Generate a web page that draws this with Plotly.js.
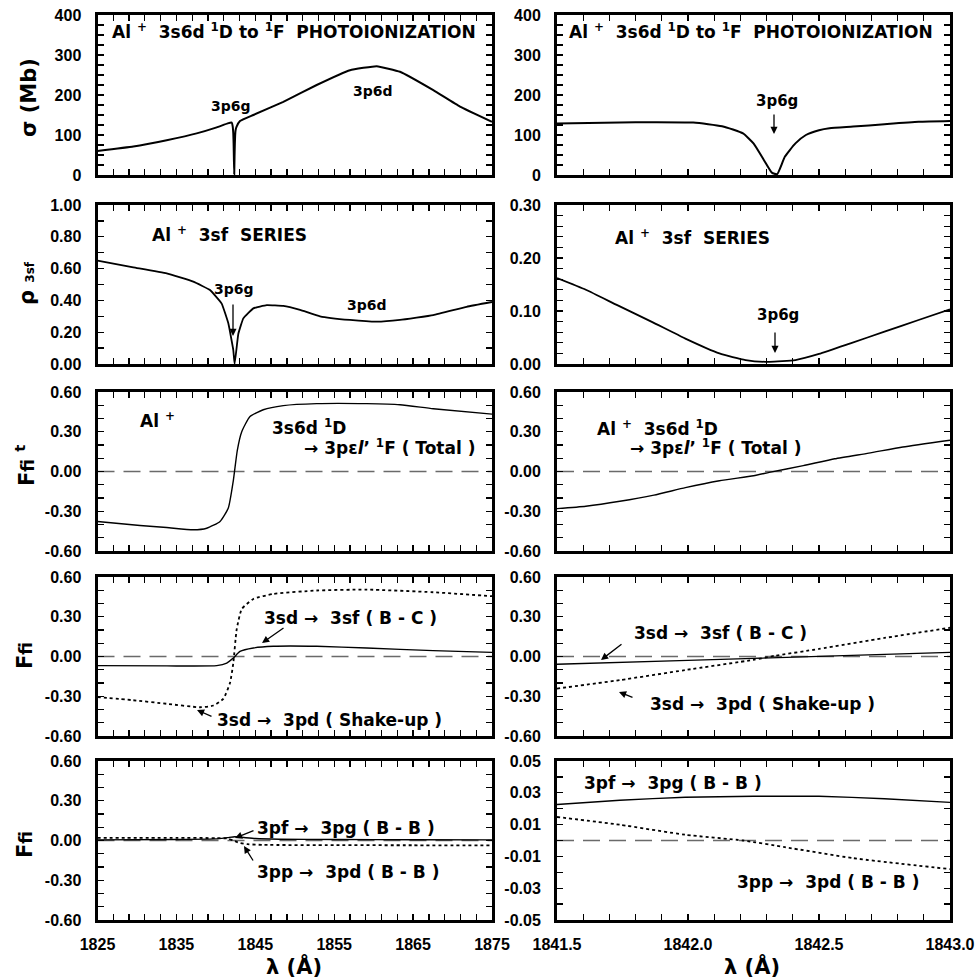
<!DOCTYPE html>
<html>
<head>
<meta charset="utf-8">
<script src="https://cdn.plot.ly/plotly-3.0.1.min.js"></script>
<style>html,body{margin:0;padding:0;background:#fff}#chart{width:975px;height:979px}</style>
</head>
<body>
<div id="chart"></div>
<script>
// ---------------- DATA ----------------
// Panel 1: photoionization cross section sigma (Mb)
const wlSigmaFull = [1825, 1829.54, 1833.77, 1837.57, 1840.11, 1841.5, 1842.01, 1842.13, 1842.21, 1842.25, 1842.29, 1842.33, 1842.37, 1842.41, 1842.45, 1842.5, 1842.63, 1843.06, 1844.75, 1848.55, 1852.78, 1857.0, 1860.39, 1863.34, 1867.56, 1870.94, 1875];
const sigmaFull   = [60, 71, 87, 104, 119, 129, 131, 122, 104, 79, 37, 2, 46, 79, 100, 112, 121, 135, 150, 183, 225, 262, 272, 258, 212, 171, 133];
const wlSigmaZoom = [1841.5, 1841.8, 1842.02, 1842.13, 1842.21, 1842.25, 1842.29, 1842.32, 1842.34, 1842.37, 1842.41, 1842.45, 1842.5, 1842.54, 1842.63, 1842.75, 1842.88, 1843.0];
const sigmaZoom   = [129, 132, 131, 122, 104, 79, 37, 6, 2, 46, 79, 100, 112, 117, 121, 127, 133, 135];

// Panel 2: rho_3sf
const wlRhoFull = [1825, 1829.54, 1833.77, 1837.14, 1839.26, 1840.74, 1841.58, 1842.21, 1842.38, 1842.85, 1843.48, 1844.75, 1846.45, 1848.55, 1850.67, 1853.2, 1857.0, 1860.39, 1863.34, 1867.56, 1871.79, 1875];
const rhoFull   = [0.65, 0.608, 0.57, 0.518, 0.465, 0.38, 0.256, 0.088, 0.0, 0.19, 0.287, 0.35, 0.37, 0.365, 0.34, 0.30, 0.277, 0.266, 0.277, 0.308, 0.36, 0.39];
const wlRhoZoom = [1841.5, 1841.61, 1841.73, 1841.86, 1841.99, 1842.12, 1842.22, 1842.31, 1842.41, 1842.5, 1842.62, 1842.75, 1842.88, 1843.0];
const rhoZoom   = [0.162, 0.14, 0.111, 0.08, 0.048, 0.02, 0.0075, 0.004, 0.0075, 0.019, 0.039, 0.061, 0.083, 0.103];

// Panel 3: total F_fi^t
const wlFtotFull = [1825, 1830.39, 1833.77, 1837.14, 1838.84, 1840.53, 1841.58, 1842.21, 1842.72, 1843.28, 1844.33, 1846.01, 1848.55, 1852.78, 1859.12, 1863.34, 1867.56, 1875];
const ftotFull   = [-0.377, -0.408, -0.423, -0.44, -0.428, -0.377, -0.275, -0.07, 0.16, 0.30, 0.415, 0.466, 0.497, 0.512, 0.512, 0.504, 0.474, 0.433];
const wlFtotZoom = [1841.5, 1841.61, 1841.74, 1841.87, 1841.99, 1842.12, 1842.25, 1842.31, 1842.44, 1842.56, 1842.69, 1842.82, 1843.0];
const ftotZoom   = [-0.28, -0.262, -0.225, -0.178, -0.122, -0.07, -0.032, -0.007, 0.044, 0.096, 0.139, 0.185, 0.236];

// Panel 4: 3sd -> 3sf (B-C) [solid] and 3sd -> 3pd (Shake-up) [dotted]
const wlBcFull = [1825, 1833.77, 1840.11, 1841.38, 1842.21, 1843.06, 1844.75, 1847.28, 1852.78, 1859.12, 1867.56, 1875];
const bcFull   = [-0.069, -0.071, -0.069, -0.05, -0.012, 0.038, 0.064, 0.077, 0.077, 0.064, 0.044, 0.031];
const wlShakeFull = [1825, 1829.54, 1833.77, 1837.99, 1839.68, 1840.94, 1841.79, 1842.21, 1842.64, 1843.28, 1844.75, 1847.28, 1852.78, 1859.12, 1867.56, 1875];
const shakeFull   = [-0.306, -0.33, -0.357, -0.383, -0.37, -0.32, -0.20, -0.05, 0.204, 0.358, 0.434, 0.472, 0.498, 0.505, 0.485, 0.455];
const wlBcZoom = [1841.5, 1842.0, 1842.5, 1843.0];
const bcZoom   = [-0.058, -0.029, 0.001, 0.031];
const wlShakeZoom = [1841.5, 1841.74, 1841.99, 1842.25, 1842.33, 1842.5, 1842.75, 1843.0];
const shakeZoom   = [-0.242, -0.178, -0.102, -0.025, 0.005, 0.057, 0.14, 0.217];

// Panel 5: 3pf -> 3pg (B-B) [solid] and 3pp -> 3pd (B-B) [dotted]
const wlPfpgFull = [1825, 1835, 1840, 1841.5, 1842.4, 1843.3, 1845, 1848, 1855, 1865, 1875];
const pfpgFull   = [0.005, 0.008, 0.012, 0.022, 0.028, 0.024, 0.015, 0.01, 0.007, 0.006, 0.005];
const wlPppdFull = [1825, 1835, 1840, 1841.5, 1842.2, 1843, 1844, 1846, 1855, 1865, 1875];
const pppdFull   = [0.02, 0.02, 0.018, 0.015, 0.0, -0.018, -0.028, -0.033, -0.035, -0.036, -0.037];
const wlPfpgZoom = [1841.5, 1841.74, 1841.99, 1842.25, 1842.5, 1842.75, 1843.0];
const pfpgZoom   = [0.0226, 0.0253, 0.0272, 0.0278, 0.0278, 0.0263, 0.024];
const wlPppdZoom = [1841.5, 1841.74, 1841.99, 1842.21, 1842.37, 1842.63, 1843.0];
const pppdZoom   = [0.0148, 0.0099, 0.0036, 0.0, -0.0042, -0.0111, -0.018];

// Tick labels
const xLabelsFull = ['1825', '1835', '1845', '1855', '1865', '1875'];
const xLabelsZoom = ['1841.5', '1842.0', '1842.5', '1843.0'];
const yLabelsSigma = ['0', '100', '200', '300', '400'];
const yLabelsRhoFull = ['0.00', '0.20', '0.40', '0.60', '0.80', '1.00'];
const yLabelsRhoZoom = ['0.00', '0.10', '0.20', '0.30'];
const yLabelsF = ['-0.60', '-0.30', '0.00', '0.30', '0.60'];
const yLabelsFsmall = ['-0.05', '-0.03', '-0.01', '0.01', '0.03', '0.05'];

// ---------------- LAYOUT HELPERS ----------------
const W = 975, H = 979;
const px = v => v / W;
const py = v => 1 - v / H;
const colX = [[97.5, 492], [557, 950]];
const rowY = [[15, 175], [205, 364], [392, 551], [577, 736], [761, 920]];

const BLACK = '#000';
const solid = (w) => ({color: BLACK, width: w, shape: 'spline', smoothing: 0.5});
const dotted = (w) => ({color: BLACK, width: w, dash: 'dot', shape: 'spline', smoothing: 0.5});

const traces = [];
function add(n, x, y, line) {
  traces.push({type: 'scatter', mode: 'lines', x: x, y: y, line: line,
    xaxis: 'x' + (n === 1 ? '' : n), yaxis: 'y' + (n === 1 ? '' : n), hoverinfo: 'skip'});
}
add(1, wlSigmaFull, sigmaFull, {color: BLACK, width: 2, shape: 'spline', smoothing: 0.3});
add(2, wlSigmaZoom, sigmaZoom, solid(2));
add(3, wlRhoFull, rhoFull, {color: BLACK, width: 1.8, shape: 'spline', smoothing: 0.3});
add(4, wlRhoZoom, rhoZoom, solid(1.8));
add(5, wlFtotFull, ftotFull, solid(1.4));
add(6, wlFtotZoom, ftotZoom, solid(1.4));
add(7, wlBcFull, bcFull, solid(1.4));
add(7, wlShakeFull, shakeFull, dotted(1.8));
add(8, wlBcZoom, bcZoom, solid(1.4));
add(8, wlShakeZoom, shakeZoom, dotted(1.8));
add(9, wlPfpgFull, pfpgFull, solid(1.4));
add(9, wlPppdFull, pppdFull, dotted(1.8));
add(10, wlPfpgZoom, pfpgZoom, solid(1.4));
add(10, wlPppdZoom, pppdZoom, dotted(1.8));

const tickFont = {family: 'Liberation Sans, Arial, sans-serif', size: 16, color: BLACK, weight: 'bold'};
const annFont = (s) => ({family: 'DejaVu Sans, sans-serif', size: s, color: BLACK, weight: 'bold'});

// build tick arrays: ticks every `step`, labelled where a label string matches
function tickSet(lo, hi, step, labels) {
  const vals = [], text = [];
  const n = Math.round((hi - lo) / step);
  for (let i = 0; i <= n; i++) {
    const v = +(lo + i * step).toFixed(6);
    vals.push(v);
    const hit = labels.find(s => Math.abs(parseFloat(s) - v) < step / 10);
    text.push(hit !== undefined ? hit : '');
  }
  return {tickvals: vals, ticktext: text};
}

const layout = {
  width: W, height: H,
  margin: {l: 0, r: 0, t: 0, b: 0},
  paper_bgcolor: '#fff', plot_bgcolor: '#fff',
  showlegend: false,
  annotations: [], shapes: []
};

const yCfg = [
  [{range: [0, 400], step: 25, labels: yLabelsSigma}, {range: [0, 400], step: 25, labels: yLabelsSigma}],
  [{range: [0, 1], step: 0.1, labels: yLabelsRhoFull}, {range: [0, 0.3], step: 0.02, labels: yLabelsRhoZoom}],
  [{range: [-0.6, 0.6], step: 0.1, labels: yLabelsF}, {range: [-0.6, 0.6], step: 0.1, labels: yLabelsF}],
  [{range: [-0.6, 0.6], step: 0.1, labels: yLabelsF}, {range: [-0.6, 0.6], step: 0.1, labels: yLabelsF}],
  [{range: [-0.6, 0.6], step: 0.1, labels: yLabelsF}, {range: [-0.05, 0.05], step: 0.01, labels: yLabelsFsmall}]
];

for (let r = 0; r < 5; r++) {
  for (let c = 0; c < 2; c++) {
    const n = r * 2 + c + 1;
    const sfx = n === 1 ? '' : n;
    const full = c === 0;
    const common = {
      showline: true, linewidth: 3, linecolor: BLACK, mirror: 'allticks',
      ticks: 'inside', ticklen: 6, tickwidth: 1.3, tickcolor: BLACK,
      showgrid: false, zeroline: false, tickfont: tickFont, fixedrange: true
    };
    const xr = full ? [1825, 1875] : [1841.5, 1843.0];
    const xt = full ? tickSet(1825, 1875, 2, xLabelsFull) : tickSet(1841.5, 1843.0, 0.1, xLabelsZoom);
    layout['xaxis' + sfx] = Object.assign({}, common, {
      domain: [px(colX[c][0]), px(colX[c][1])],
      anchor: 'y' + sfx,
      range: xr,
      tickmode: 'array', tickvals: xt.tickvals, ticktext: xt.ticktext,
      showticklabels: r === 4,
      ticklabelstandoff: 8
    });
    const yc = yCfg[r][c];
    const yt = tickSet(yc.range[0], yc.range[1], yc.step, yc.labels);
    layout['yaxis' + sfx] = Object.assign({}, common, {
      domain: [py(rowY[r][1]), py(rowY[r][0])],
      anchor: 'x' + sfx,
      range: yc.range,
      tickmode: 'array', tickvals: yt.tickvals, ticktext: yt.ticktext,
      ticklabelstandoff: 10
    });
    if (r >= 2) {
      layout.shapes.push({type: 'line', xref: 'x' + sfx + ' domain', yref: 'y' + sfx,
        x0: 0, x1: 1, y0: 0, y1: 0, layer: 'below',
        line: {color: '#6a6a6a', width: 1.4, dash: '17px,9px'}});
    }
  }
}

const NB = '\u00a0';
function label(text, x, y, size, anchor) {
  layout.annotations.push({text: text, xref: 'paper', yref: 'paper', x: px(x), y: py(y),
    xanchor: anchor || 'left', yanchor: 'middle', showarrow: false, font: annFont(size)});
}
function arrow(tx, ty, hx, hy) {
  layout.annotations.push({text: '', xref: 'paper', yref: 'paper', x: px(hx), y: py(hy),
    ax: tx - hx, ay: ty - hy, showarrow: true, arrowhead: 2, arrowsize: 1.1,
    arrowwidth: 1.3, arrowcolor: BLACK, standoff: 0, startstandoff: 0});
}

const title1 = 'Al' + NB + '<sup>+</sup>' + NB + NB + '3s6d' + NB + '<sup>1</sup>D to' + NB + '<sup>1</sup>F' + NB + NB + 'PHOTOIONIZATION';
const series = 'Al' + NB + '<sup>+</sup>' + NB + NB + '3sf' + NB + NB + 'SERIES';
const total = '\u2192' + NB + '3p\u03b5<i>l</i>\u2019' + NB + '<sup>1</sup>F' + NB + '(' + NB + 'Total' + NB + ')';
const arr = NB + '\u2192' + NB + NB;

// Panel 1
label(title1, 110, 31, 17);
label('3p6g', 231, 106, 14, 'center');
label('3p6d', 373, 91, 14, 'center');
label(title1, 567, 31, 17);
label('3p6g', 777, 101, 15, 'center');
arrow(774, 113, 774, 134);
// Panel 2
label(series, 150, 234, 17);
label('3p6g', 234, 289, 14, 'center');
arrow(233, 303, 233, 336);
label('3p6d', 367, 305, 14, 'center');
label(series, 613, 237, 17);
label('3p6g', 778, 315, 15, 'center');
arrow(775, 331, 775, 353);
// Panel 3
label('Al' + NB + '<sup>+</sup>', 138, 420, 17);
label('3s6d' + NB + '<sup>1</sup>D', 270, 427, 17);
label(total, 302, 447, 17);
label('Al' + NB + '<sup>+</sup>' + NB + NB + '3s6d' + NB + '<sup>1</sup>D', 595, 428, 17);
label(total, 628, 447, 17);
// Panel 4
label('3sd' + arr + '3sf' + NB + '(' + NB + 'B' + NB + '-' + NB + 'C' + NB + ')', 262, 618, 17);
arrow(285, 627, 262, 643);
label('3sd' + arr + '3pd' + NB + '(' + NB + 'Shake-up' + NB + ')', 215, 720, 17);
arrow(213, 717, 197, 710);
label('3sd' + arr + '3sf' + NB + '(' + NB + 'B' + NB + '-' + NB + 'C' + NB + ')', 632, 633, 17);
arrow(623, 643, 601, 660);
label('3sd' + arr + '3pd' + NB + '(' + NB + 'Shake-up' + NB + ')', 648, 704, 17);
arrow(634, 698, 619, 692);
// Panel 5
label('3pf' + arr + '3pg' + NB + '(' + NB + 'B' + NB + '-' + NB + 'B' + NB + ')', 255, 828, 17);
arrow(255, 830, 235, 838);
label('3pp' + arr + '3pd' + NB + '(' + NB + 'B' + NB + '-' + NB + 'B' + NB + ')', 255, 872, 17);
arrow(254, 862, 244, 846);
label('3pf' + arr + '3pg' + NB + '(' + NB + 'B' + NB + '-' + NB + 'B' + NB + ')', 582, 783, 17);
label('3pp' + arr + '3pd' + NB + '(' + NB + 'B' + NB + '-' + NB + 'B' + NB + ')', 735, 882, 17);

// Axis titles (placed as rotated annotations)
function ytitle(text, x, y) {
  layout.annotations.push({text: text, xref: 'paper', yref: 'paper', x: px(x), y: py(y),
    xanchor: 'center', yanchor: 'middle', textangle: -90, showarrow: false, font: annFont(21)});
}
ytitle('\u03c3' + NB + '(Mb)', 29, 98);
ytitle('\u03c1' + NB + '<span style="font-size:12px">3sf</span>', 27, 283);
ytitle('F<span style="font-size:17px">fi</span>' + NB + '<sup>t</sup>', 25, 466);
ytitle('F<span style="font-size:17px">fi</span>', 25, 656);
ytitle('F<span style="font-size:17px">fi</span>', 25, 845);
layout.annotations.push({text: '\u03bb' + NB + '(\u00c5)', xref: 'paper', yref: 'paper', x: px(294), y: py(966),
  xanchor: 'center', yanchor: 'middle', showarrow: false, font: annFont(21)});
layout.annotations.push({text: '\u03bb' + NB + '(\u00c5)', xref: 'paper', yref: 'paper', x: px(752), y: py(966),
  xanchor: 'center', yanchor: 'middle', showarrow: false, font: annFont(21)});

Plotly.newPlot('chart', traces, layout, {displayModeBar: false, staticPlot: true});
</script>
</body>
</html>
